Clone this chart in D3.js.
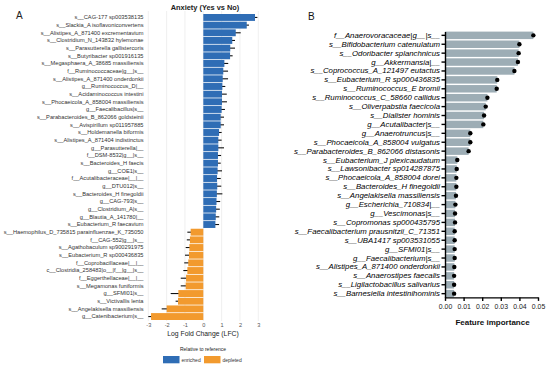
<!DOCTYPE html>
<html>
<head>
<meta charset="utf-8">
<script src="https://cdn.jsdelivr.net/npm/d3@7"></script>
<style>
  body { margin: 0; background: #fff; }
  svg { font-family: "Liberation Sans", Arial, sans-serif; }
</style>
</head>
<body>
<div id="chart"></div>
<script>
// ---- panel A: log fold change (anxiety yes vs no) ----
var lfcLabels = [
  "s__CAG-177 sp003538135", "s__Slackia_A isoflavoniconvertens", "s__Alistipes_A_871400 excrementavium",
  "s__Clostridium_N_143832 hylemonae", "s__Parasutterella gallistercoris", "s__Butyribacter sp001916135",
  "s__Megasphaera_A_38685 massiliensis", "f__Ruminococcaceae|g__|s__", "s__Alistipes_A_871400 onderdonkii",
  "g__Ruminococcus_D|__", "s__Acidaminococcus intestini", "s__Phocaeicola_A_858004 massiliensis",
  "g__Faecalibacillus|s__", "s__Parabacteroides_B_862066 goldsteinii", "s__Avispirillum sp011957885",
  "s__Holdemanella biformis", "s__Alistipes_A_871404 indistinctus", "g__Parasutterella|__",
  "f__DSM-8532|g__|s__", "s__Bacteroides_H faecis", "g__COE1|s__", "f__Acutalibacteraceae|__|__",
  "g__DTU012|s__", "s__Bacteroides_H finegoldii", "g__CAG-793|s__", "g__Clostridium_A|s__",
  "g__Blautia_A_141780|__", "s__Eubacterium_R faecavium", "s__Haemophilus_D_735815 parainfluenzae_K_735050",
  "f__CAG-552|g__|s__", "s__Agathobaculum sp900291975", "s__Eubacterium_R sp000436835",
  "f__Coprobacillaceae|__|__", "c__Clostridia_258483|o__|f__|g__|s__", "f__Eggerthellaceae|__|__",
  "s__Megamonas funiformis", "g__SFMI01|s__", "s__Victivallis lenta", "s__Angelakisella massiliensis",
  "g__Catenibacterium|s__"
];
var lfcValues = [2.82, 2.37, 1.77, 1.58, 1.47, 1.46, 1.15, 1.09, 1.06, 1.04, 1.02, 1.02, 1.0, 0.95,
  0.95, 0.86, 0.82, 0.82, 0.8, 0.8, 0.78, 0.75, 0.76, 0.74, 0.72, 0.7, 0.68, 0.66,
  -0.69, -0.73, -0.76, -0.78, -0.82, -0.87, -0.94, -0.96, -1.36, -1.38, -2.0, -2.85];
var lfcErr = [0.13, 0.12, 0.27, 0.15, 0.26, 0.14, 0.21, 0.26, 0.29, 0.16, 0.26, 0.27, 0.18, 0.18,
  0.18, 0.14, 0.18, 0.31, 0.17, 0.15, 0.24, 0.2, 0.22, 0.3, 0.2, 0.2, 0.19, 0.2,
  0.18, 0.17, 0.2, 0.22, 0.22, 0.22, 0.29, 0.27, 0.42, 0.13, 0.27, 0.15];
var lfcTicks = [-3, -2, -1, 0, 1, 2, 3];
var legendItems = ["enriched", "depleted"];

// ---- panel B: feature importance ----
var fiLabels = [
  "f__Anaerovoracaceae|g__|s__", "s__Bifidobacterium catenulatum", "s__Odoribacter splanchnicus",
  "g__Akkermansia|__", "s__Coprococcus_A_121497 eutactus", "s__Eubacterium_R sp000436835",
  "s__Ruminococcus_E bromii", "s__Ruminococcus_C_58660 callidus", "s__Oliverpabstia faecicola",
  "s__Dialister hominis", "g__Acutalibacter|s__", "g__Anaerotruncus|s__",
  "s__Phocaeicola_A_858004 vulgatus", "s__Parabacteroides_B_862066 distasonis", "s__Eubacterium_J plexicaudatum",
  "s__Lawsonibacter sp014287875", "s__Phocaeicola_A_858004 dorei", "s__Bacteroides_H finegoldii",
  "s__Angelakisella massiliensis", "g__Escherichia_710834|__", "g__Vescimonas|s__",
  "s__Copromonas sp000435795", "s__Faecalibacterium prausnitzii_C_71351", "s__UBA1417 sp003531055",
  "g__SFMI01|s__", "g__Faecalibacterium|s__", "s__Alistipes_A_871400 onderdonkii",
  "s__Anaerostipes faecalis", "s__Ligilactobacillus salivarius", "s__Barnesiella intestinihominis"
];
var fiValues = [0.0475, 0.040, 0.0396, 0.0392, 0.0373, 0.0281, 0.0278, 0.0228, 0.0219, 0.021,
  0.0206, 0.0136, 0.0136, 0.0127, 0.0066, 0.0063, 0.0061, 0.0061, 0.0059, 0.0056,
  0.0054, 0.0054, 0.0052, 0.0052, 0.0052, 0.0052, 0.005, 0.0049, 0.0049, 0.0049];
var fiTicks = [0, 0.01, 0.02, 0.03, 0.04, 0.05];

var blue = "#2f6db5", orange = "#f29a2e";

var svg = d3.select("#chart").append("svg")
  .attr("width", 550)
  .attr("height", 367);

// <----------------------- panel A ----------------------->
var xA = d3.scaleLinear().domain([-3, 3]).range([148.3, 258.3]);
var yA = d3.scaleBand().domain(lfcLabels).range([14, 320]).paddingInner(0.1);

svg.append("text").text("A").attr("x", 16).attr("y", 19)
  .attr("font-size", 10).attr("fill", "#222");

svg.append("text").text("Anxiety (Yes vs No)")
  .attr("x", 205).attr("y", 9.5)
  .attr("text-anchor", "middle")
  .attr("font-size", 7.4).attr("font-weight", "bold").attr("fill", "#222");

// gridlines
svg.append("g").selectAll("line")
  .data(lfcTicks)
  .enter().append("line")
  .attr("x1", function(d) { return xA(d); })
  .attr("x2", function(d) { return xA(d); })
  .attr("y1", 11).attr("y2", 321)
  .attr("stroke", "#e6e6e6").attr("stroke-width", 0.6);

// error bars go first so the bar hides the inner half
svg.append("g").selectAll("line")
  .data(lfcValues)
  .enter().append("line")
  .attr("x1", function(d, i) { return xA(d - lfcErr[i]); })
  .attr("x2", function(d, i) { return xA(d + lfcErr[i]); })
  .attr("y1", function(d, i) { return yA(lfcLabels[i]) + yA.bandwidth() / 2; })
  .attr("y2", function(d, i) { return yA(lfcLabels[i]) + yA.bandwidth() / 2; })
  .attr("stroke", "#111").attr("stroke-width", 1.1);

svg.append("g").selectAll("rect")
  .data(lfcValues)
  .enter().append("rect")
  .attr("x", function(d) { return xA(Math.min(0, d)); })
  .attr("width", function(d) { return Math.abs(xA(d) - xA(0)); })
  .attr("y", function(d, i) { return yA(lfcLabels[i]); })
  .attr("height", yA.bandwidth())
  .attr("fill", function(d) { return d > 0 ? blue : orange; });

var axA = svg.append("g")
  .attr("transform", "translate(146,0)")
  .call(d3.axisLeft(yA).tickSize(0).tickPadding(2.5));
axA.select(".domain").remove();
axA.selectAll("text").attr("font-size", 5.7).attr("fill", "#333");

var axAx = svg.append("g")
  .attr("transform", "translate(0,321)")
  .call(d3.axisBottom(xA).tickValues(lfcTicks).tickFormat(function(d) { return String(d); })
    .tickSize(0).tickPadding(2));
axAx.select(".domain").remove();
axAx.selectAll("text").attr("font-size", 5.6).attr("fill", "#555");

svg.append("text").text("Log Fold Change (LFC)")
  .attr("x", 203).attr("y", 335.5)
  .attr("text-anchor", "middle")
  .attr("font-size", 6.8).attr("fill", "#222");

svg.append("text").text("Relative to reference")
  .attr("x", 203).attr("y", 350.5)
  .attr("text-anchor", "middle")
  .attr("font-size", 5).attr("fill", "#222");

var leg = svg.append("g").selectAll("g")
  .data(legendItems)
  .enter().append("g")
  .attr("transform", function(d, i) { return "translate(" + (163 + i * 41) + ",356)"; });
leg.append("rect")
  .attr("width", 16.5).attr("height", 7.3)
  .attr("fill", function(d, i) { return i == 0 ? blue : orange; });
leg.append("text").text(function(d) { return d; })
  .attr("x", 18.5).attr("y", 5.6)
  .attr("font-size", 5).attr("fill", "#333");

// <----------------------- panel B ----------------------->
var xB = d3.scaleLinear().domain([0, 0.05]).range([445, 538]);
var yB = d3.scaleBand().domain(fiLabels).range([31.6, 297.4]).paddingInner(0.16);

svg.append("text").text("B").attr("x", 308).attr("y", 19.5)
  .attr("font-size", 10).attr("fill", "#111");

svg.append("g").selectAll("rect")
  .data(fiValues)
  .enter().append("rect")
  .attr("x", xB(0))
  .attr("width", function(d) { return xB(d) - xB(0); })
  .attr("y", function(d, i) { return yB(fiLabels[i]); })
  .attr("height", yB.bandwidth())
  .attr("fill", "#9dadb5");

svg.append("g").selectAll("circle")
  .data(fiValues)
  .enter().append("circle")
  .attr("cx", function(d) { return xB(d); })
  .attr("cy", function(d, i) { return yB(fiLabels[i]) + yB.bandwidth() / 2; })
  .attr("r", 2.2)
  .attr("fill", "#000");

var axB = svg.append("g")
  .attr("transform", "translate(445,0)")
  .call(d3.axisLeft(yB).tickSize(3.5).tickSizeOuter(0).tickPadding(1.5));
axB.selectAll("path, line").attr("stroke", "#000").attr("stroke-width", 1.4);
axB.selectAll("text").attr("font-size", 7.8).attr("font-style", "italic").attr("fill", "#000");

var axBx = svg.append("g")
  .attr("transform", "translate(0,297.4)")
  .call(d3.axisBottom(xB).tickValues(fiTicks).tickFormat(d3.format(".2f")).tickSize(3.5).tickSizeOuter(0).tickPadding(3));
axBx.selectAll("path, line").attr("stroke", "#000").attr("stroke-width", 1.4);
axBx.selectAll("text").attr("font-size", 6.9).attr("fill", "#222");

svg.append("text").text("Feature importance")
  .attr("x", 492.5).attr("y", 324.5)
  .attr("text-anchor", "middle")
  .attr("font-size", 8).attr("font-weight", "bold").attr("fill", "#111");
</script>
</body>
</html>
